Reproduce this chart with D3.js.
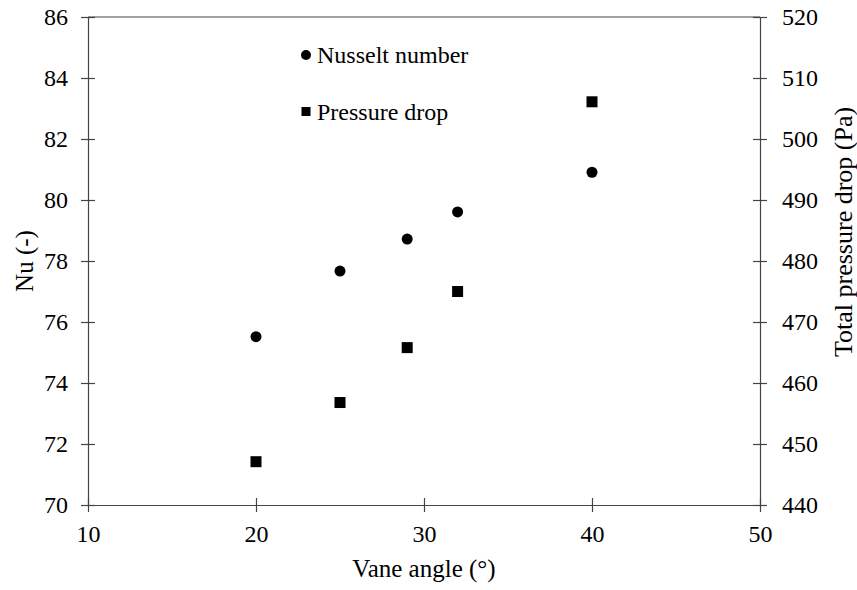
<!DOCTYPE html>
<html><head><meta charset="utf-8">
<script src="https://cdn.jsdelivr.net/npm/d3@7"></script>
<style>body{margin:0;background:#fff}svg text{font-family:"Liberation Serif","Times New Roman",serif !important;fill:#000}</style>
</head><body>
<svg id="c" width="857" height="590"></svg>
<script>
const angles = [20, 25, 29, 32, 40];
const nusselt = [75.52, 77.67, 78.72, 79.61, 80.91];
const pressure = [447.1, 456.8, 465.8, 475.0, 506.1];
const xTicks = [10, 20, 30, 40, 50];
const nuTicks = [70, 72, 74, 76, 78, 80, 82, 84, 86];
const pTicks = [440, 450, 460, 470, 480, 490, 500, 510, 520];

const L = 88, R = 760, T = 17, B = 505;
const fs = 24, axisCol = "#444";
const serif = "Liberation Serif, Times New Roman, serif";
const svg = d3.select("#c");
const x = d3.scaleLinear().domain([10, 50]).range([L, R]);
const yL = d3.scaleLinear().domain([70, 86]).range([B, T]);
const yR = d3.scaleLinear().domain([440, 520]).range([B, T]);

// frame
svg.append("line").attr("x1", L).attr("x2", R).attr("y1", T).attr("y2", T).attr("stroke", axisCol).attr("stroke-width", 1.2);

function styleAxis(g) {
  g.attr("font-family", serif).attr("font-size", fs);
  g.select(".domain").attr("stroke", axisCol).attr("stroke-width", 1.2);
  g.selectAll(".tick line").attr("stroke", axisCol).attr("stroke-width", 1.2);
  g.selectAll(".tick text").attr("font-size", fs).attr("font-family", serif).attr("fill", "#000");
}

const gx = svg.append("g").attr("transform", `translate(0,${B})`)
  .call(d3.axisBottom(x).tickValues(xTicks).tickSizeInner(7).tickSizeOuter(0).tickPadding(13).tickFormat(d3.format("d")));
styleAxis(gx);
gx.selectAll(".tick line").attr("y1", -7);

const gl = svg.append("g").attr("transform", `translate(${L},0)`)
  .call(d3.axisLeft(yL).tickValues(nuTicks).tickSizeInner(7).tickSizeOuter(0).tickPadding(13).tickFormat(d3.format("d")));
styleAxis(gl);
gl.selectAll(".tick line").attr("x2", 7).attr("x1", -7);

const gr = svg.append("g").attr("transform", `translate(${R},0)`)
  .call(d3.axisRight(yR).tickValues(pTicks).tickSizeInner(7).tickSizeOuter(0).tickPadding(15).tickFormat(d3.format("d")));
styleAxis(gr);
gr.selectAll(".tick line").attr("x1", -7).attr("x2", 7);

// axis titles
svg.append("text").attr("x", (L + R) / 2).attr("y", 577).attr("text-anchor", "middle").attr("font-size", 25).text("Vane angle (°)");
svg.append("text").attr("transform", `translate(33,${(T + B) / 2}) rotate(-90)`).attr("text-anchor", "middle").attr("font-size", 25).text("Nu (-)");
svg.append("text").attr("transform", `translate(852,357) rotate(-90)`).attr("text-anchor", "start").attr("font-size", 26).text("Total pressure drop (Pa)");

// data
const data = angles.map((a, i) => ({a, nu: nusselt[i], p: pressure[i]}));
svg.append("g").selectAll("circle").data(data).join("circle")
  .attr("cx", d => x(d.a)).attr("cy", d => yL(d.nu)).attr("r", 5.5).attr("fill", "#000");
const s = 11;
svg.append("g").selectAll("rect").data(data).join("rect")
  .attr("x", d => x(d.a) - s / 2).attr("y", d => yR(d.p) - s / 2).attr("width", s).attr("height", s).attr("fill", "#000");

// legend
svg.append("circle").attr("cx", 306).attr("cy", 55).attr("r", 5).attr("fill", "#000");
svg.append("text").attr("x", 317).attr("y", 63).attr("font-size", fs).text("Nusselt number");
svg.append("rect").attr("x", 301.5).attr("y", 107).attr("width", 9).attr("height", 9).attr("fill", "#000");
svg.append("text").attr("x", 317).attr("y", 120).attr("font-size", fs).text("Pressure drop");
</script>
</body></html>
